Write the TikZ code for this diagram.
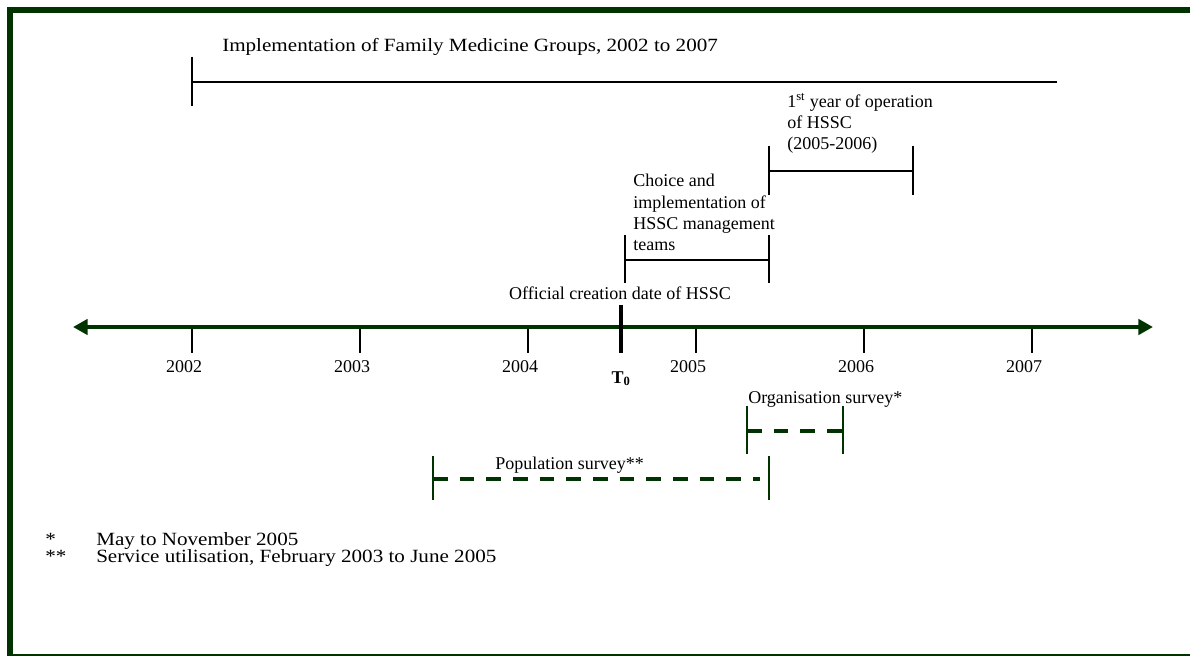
\documentclass[tikz,border=0pt]{standalone}
\usepackage{fontspec}
\setmainfont{Liberation Serif}
\newfontfamily\widefont[FakeStretch=1.13]{Liberation Serif}
\usetikzlibrary{arrows.meta, positioning}
\definecolor{dkgreen}{RGB}{0,51,0}

\begin{document}
\begin{tikzpicture}[
    x=0.75pt, y=-0.75pt,
    lbl/.style={font=\fontsize{13.5}{16}\selectfont, inner sep=0pt},
    widelbl/.style={font=\widefont\fontsize{14}{16}\selectfont, inner sep=0pt},
    note/.style={widelbl, anchor=base west, text height=9pt, text depth=2pt},
    bar/.style={draw=black, line width=1.5pt},
    gbar/.style={draw=dkgreen, line width=1.5pt},
    axis/.style={draw=dkgreen, line width=3pt, {Triangle[length=11pt,width=11.5pt]}-{Triangle[length=11pt,width=11.5pt]}},
    survey/.style={draw=dkgreen, line width=3pt, dash pattern=on 11pt off 9pt}
  ]
    \useasboundingbox (0,0) rectangle (1190,656);
    % frame
    \draw[dkgreen, line width=4.2pt] (10,656) -- (10,10) -- (1190,10);
    \draw[dkgreen, line width=0.8pt] (10,655) -- (1190,655);

    % Family Medicine Groups
    \node[widelbl, anchor=base west] (fmg) at (222,52) {Implementation of Family Medicine Groups, 2002 to 2007};
    \coordinate (fmgA) at (192,82);
    \coordinate (fmgB) at (1057,82);
    \draw[bar] (192,57) -- (192,106);
    \draw[bar] (fmgA) -- (fmgB);

    % 1st year of operation
    \node[lbl, anchor=north west, align=left] (year1) at (787,93) {1\textsuperscript{st} year of operation\\of HSSC\\(2005-2006)};
    \coordinate (opA) at (769,171);
    \coordinate (opB) at (913,171);
    \draw[bar] (769,146) -- (769,195);
    \draw[bar] (913,146) -- (913,195);
    \draw[bar] (opA) -- (opB);

    % management teams
    \node[lbl, anchor=north west, align=left] (teams) at (633,174) {Choice and\\implementation of\\HSSC management\\teams};
    \coordinate (mtA) at (625,260);
    \coordinate (mtB) at (769,260);
    \draw[bar] (625,235) -- (625,283);
    \draw[bar] (769,235) -- (769,283);
    \draw[bar] (mtA) -- (mtB);

    % time axis
    \coordinate (axL) at (73,327);
    \coordinate (axR) at (1153,327);
    \foreach \yr [count=\i from 0] in {2002,...,2007} {
      \coordinate (t\yr) at (192+168*\i,327);
      \draw[bar, line width=1.3pt] (t\yr) -- ++(0,26);
      \node[lbl, anchor=base] (lab\yr) at (184+168*\i,373) {\yr};
    }
    \draw[axis] (axL) -- (axR);

    % T0
    \node[lbl, anchor=base] (official) at (620,300) {Official creation date of HSSC};
    \coordinate (tzA) at (621,305);
    \coordinate (tzB) at (621,353);
    \draw[line width=3.6pt] (tzA) -- (tzB);
    \node[lbl, anchor=base, font=\fontsize{13.5}{16}\selectfont\bfseries] (tzero) at (621,383) {T\textsubscript{0}};

    % Organisation survey
    \node[lbl, anchor=base west] (org) at (748,403) {Organisation survey*};
    \coordinate (orgA) at (747,431);
    \coordinate (orgB) at (843,431);
    \draw[gbar] (747,406) -- (747,454);
    \draw[gbar] (843,406) -- (843,454);
    \draw[survey] (orgA) -- (orgB);

    % Population survey
    \node[lbl, anchor=base west] (pop) at (495,469) {Population survey**};
    \coordinate (popA) at (433,479);
    \coordinate (popB) at (760,479);
    \draw[gbar] (433,456) -- (433,500);
    \draw[gbar] (769,456) -- (769,500);
    \draw[survey] (popA) -- (popB);

    % notes
    \node[note] (star1) at (45,545) {*};
    \node[note] (note1) at (96,545) {May to November 2005};
    \node[note] (star2) at (45,562) {**};
    \node[note] (note2) at (96,562) {Service utilisation, February 2003 to June 2005};
  \end{tikzpicture}
\end{document}
